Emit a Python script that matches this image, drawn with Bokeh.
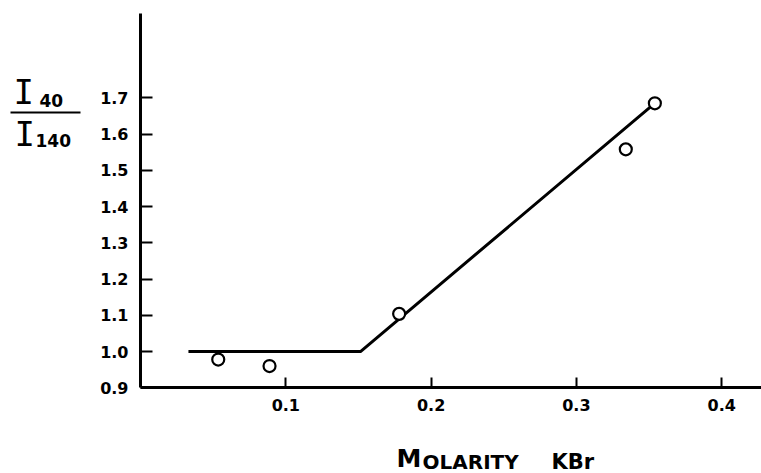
from bokeh.plotting import figure
from bokeh.models import Range1d, FixedTicker, Label, BoxAnnotation
from bokeh.embed import file_html
from bokeh.resources import INLINE

# Data
molarity = [0.0535, 0.0888, 0.178, 0.334, 0.354]
ratio = [0.978, 0.960, 1.104, 1.558, 1.685]
fit_molarity = [0.033, 0.1514, 0.351]
fit_ratio = [1.0, 1.0, 1.675]
x_ticks = [0.1, 0.2, 0.3, 0.4]
y_ticks = [0.9, 1.0, 1.1, 1.2, 1.3, 1.4, 1.5, 1.6, 1.7]

W, H = 761, 473
FONT = "DejaVu Sans"
# layout: axis origin (x=0, y=0.9) at canvas pixel (OX, OY)
OX, OY = 140.0, 387.3
PX_X, PX_Y = 1453.0, 362.4   # pixels per data unit
x0, x1 = -OX / PX_X, (W - OX) / PX_X
y0, y1 = 0.9 - (H - OY) / PX_Y, 0.9 + OY / PX_Y

p = figure(width=W, height=H, output_backend="svg", toolbar_location=None,
           x_range=Range1d(x0, x1), y_range=Range1d(y0, y1),
           min_border_left=0, min_border_right=0, min_border_top=0,
           min_border_bottom=0)
p.outline_line_color = None
p.xgrid.visible = False
p.ygrid.visible = False
p.background_fill_color = "white"
p.border_fill_color = "white"

for ax in (p.xaxis[0], p.yaxis[0]):
    ax.axis_line_width = 3
    ax.axis_line_color = "black"
    ax.major_tick_line_width = 2
    ax.major_tick_line_color = "black"
    ax.major_tick_out = 0
    ax.minor_tick_line_color = None
    ax.major_label_text_font = FONT
    ax.major_label_text_font_size = "16px"
    ax.major_label_text_font_style = "bold"
    ax.major_label_text_color = "black"

xa, ya = p.xaxis[0], p.yaxis[0]
xa.fixed_location = 0.9
ya.fixed_location = 0.0
xa.bounds = (0.0, x1)
ya.bounds = (0.9, 0.9 + (OY - 12.5) / PX_Y)
xa.ticker = FixedTicker(ticks=x_ticks)
ya.ticker = FixedTicker(ticks=y_ticks)
xa.major_tick_in = 10
ya.major_tick_in = 12
xa.major_label_standoff = 11
ya.major_label_standoff = 12
xa.major_label_overrides = {t: f"{t:.1f}" for t in x_ticks}
ya.major_label_overrides = {t: f"{t:.1f}" for t in y_ticks}

p.line(fit_molarity, fit_ratio, line_width=3, line_color="black")
p.scatter(molarity, ratio, marker="circle", size=12, line_width=2.2,
          line_color="black", fill_color="white")

def lab(text, cx, cy, size, font=FONT, style="bold"):
    p.add_layout(Label(x=cx, y=H - cy, x_units="screen", y_units="screen",
                       text=text, text_font=font, text_font_size=size,
                       text_font_style=style, text_baseline="middle",
                       text_align="left", text_color="black"))

# Y-axis title: I40 / I140
lab("I", 13, 91, "34px", font="DejaVu Sans Mono", style="normal")
lab("40", 39, 99.5, "17px")
p.add_layout(BoxAnnotation(left=10, right=80, bottom=H - 113, top=H - 111,
                           left_units="screen", right_units="screen",
                           top_units="screen", bottom_units="screen",
                           fill_color="black", fill_alpha=1, line_color=None))
lab("I", 14, 133, "34px", font="DejaVu Sans Mono", style="normal")
lab("140", 35, 140, "17px")

# X-axis title: MOLARITY KBr (small caps)
lab("M", 396, 457.5, "25px")
lab("OLARITY", 422, 461, "20px")
lab("KBr", 551, 461, "21px")

open("out.html", "w").write(file_html(p, INLINE))
